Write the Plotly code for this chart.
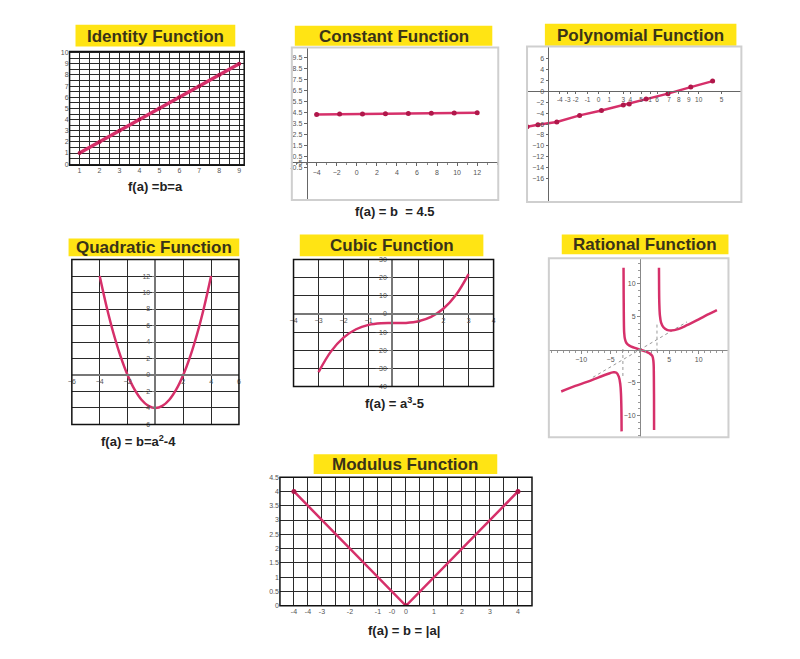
import plotly.graph_objects as go

OFF = 8
W, H = 800 - 2 * OFF, 659 - 2 * OFF
PINK = "#d6306a"
DARK = "#b0174a"
GRID = "#2a2a2a"
TICKF = dict(family="Liberation Sans", size=7, color="#555")

# ---------------- data ----------------
id_x = [1, 2, 3, 4, 5, 6, 7, 8, 9]
id_y = [1, 2, 3, 4, 5, 6, 7, 8, 9]

const_x = [-4, -1.71, 0.57, 2.86, 5.14, 7.43, 9.71, 12]
const_y = [4.35, 4.38, 4.4, 4.42, 4.44, 4.45, 4.48, 4.5]
const_ytickvals = [9.5, 8.5, 7.5, 6.5, 5.5, 4.5, 3.5, 2.5, 1.5, 0.5, 0, -0.5]
const_yticktext = ["9.5", "8.5", "7.5", "6.5", "5.5", "4.5", "3.5", "2.5", "1.5", "0.5", "-5", "-0.5"]
const_xticks = [-4, -2, 0, 2, 4, 6, 8, 10, 12]

poly_x = [-7.3, -6.2, -4.3, -2.0, 0.2, 2.4, 3.0, 4.7, 6.9, 9.2, 11.4]
poly_y = [-6.5, -6.1, -5.6, -4.4, -3.5, -2.5, -2.3, -1.4, -0.4, 0.8, 1.9]
poly_xtickvals = [-4, -3.2, -2.4, -1.2, -0.1, 1, 2.4, 3.1, 4.2, 5.1, 5.8, 7, 8, 9, 10, 12.3]
poly_xticktext = ["-4", "-3", "-2", "-1", "0", "1", "3", "4", "5", "1", "6", "7", "8", "9", "10", "5"]
poly_yticks = [6, 4, 2, 0, -2, -4, -6, -8, -10, -12, -14, -16]

quad_a = [-4, -3.5, -3, -2.5, -2, -1.5, -1, -0.5, 0, 0.5, 1, 1.5, 2, 2.5, 3, 3.5, 4]
quad_b = [12, 8.25, 5, 2.25, 0, -1.75, -3, -3.75, -4, -3.75, -3, -1.75, 0, 2.25, 5, 8.25, 12]
quad_xticks = [-6, -4, -2, 2, 4, 6]
quad_yticks = [12, 10, 8, 6, 4, 2, 0, -2, -4, -6]

cub_a = [-3, -2.5, -2, -1.5, -1, -0.5, 0, 0.5, 1, 1.5, 2, 2.5, 3]
cub_b = [-32, -20.6, -13, -8.4, -6, -5.1, -5, -4.9, -4, -1.6, 3, 10.6, 22]
cub_xticks = [-4, -3, -2, -1, 1, 2, 3, 4]
cub_yticks = [30, 20, 10, 0, -10, -20, -30, -40]

rat_x1 = [-13.4, -11, -9, -7, -5.5, -4.6, -4.0, -3.6, -3.35, -3.22, -3.15, -3.12]
rat_y1 = [-6.35, -5.5, -4.9, -4.2, -3.7, -3.45, -3.5, -4.1, -5.2, -6.8, -9.2, -12.4]
rat_x2 = [-2.79, -2.77, -2.74, -2.68, -2.55, -2.3, -1.8, -1.0, 0, 1.0, 1.6, 2.1, 2.3, 2.37, 2.4, 2.41]
rat_y2 = [12.4, 8.5, 5.0, 2.6, 1.6, 1.0, 0.6, 0.3, 0, -0.3, -0.55, -0.95, -1.8, -4.0, -8.0, -12.2]
rat_x3 = [3.24, 3.26, 3.3, 3.4, 3.6, 4.0, 4.6, 5.3, 6.5, 8, 10, 11.5, 13.1]
rat_y3 = [12.4, 9.5, 7.0, 5.2, 4.1, 3.4, 3.0, 2.9, 3.1, 3.7, 4.6, 5.3, 6.0]
rat_slant_x = [-8, 8]
rat_slant_y = [-4.2, 4.2]
rat_vl_x = [-2.9, -2.9]
rat_vl_y = [-4.0, 0.3]
rat_vr_x = [2.9, 2.9]
rat_vr_y = [-0.3, 4.0]
rat_ticks = [-10, -5, 5, 10]

mod_a = [-4, 0, 4]
mod_b = [4, 0, 4]
mod_xtickvals = [-4, -3.5, -3, -2, -1, -0.5, 0, 1, 2, 3, 4]
mod_xticktext = ["-4", "-4", "-3", "-2", "-1", "-0", "0", "1", "2", "3", "4"]
mod_yticks = [0, 0.5, 1, 1.5, 2, 2.5, 3, 3.5, 4, 4.5]

titles = ["Identity Function", "Constant Function", "Polynomial Function",
          "Quadratic Function", "Cubic Function", "Rational Function", "Modulus Function"]
captions = ["f(a) =b=a", "f(a) = b  = 4.5", "f(a) = b=a<sup>2</sup>-4",
            "f(a) = a<sup>3</sup>-5", "f(a) = b = |a|"]

# ---------------- helpers (page pixel -> paper fraction) ----------------
def fx(p):
    return (p - OFF) / W

def fy(p):
    return 1 - (p - OFF) / H

fig = go.Figure()

def line_trace(x, y, ax, width=3, markers=False, msize=5, color=PINK, dash=None, shape="linear"):
    fig.add_trace(go.Scatter(
        x=x, y=y, xaxis="x" + ax, yaxis="y" + ax,
        mode="lines+markers" if markers else "lines",
        line=dict(color=color, width=width, dash=dash, shape=shape),
        marker=dict(color=DARK, size=msize),
        hoverinfo="skip", showlegend=False, cliponaxis=True))

line_trace(id_x, id_y, "", width=3.5, markers=True, msize=4)
line_trace(const_x, const_y, "2", width=2.5, markers=True, msize=5)
line_trace(poly_x, poly_y, "3", width=2.5, markers=True, msize=5)
line_trace(quad_a, quad_b, "4", width=2.5, shape="spline")
line_trace(cub_a, cub_b, "5", width=2.5, shape="spline")
line_trace(rat_slant_x, rat_slant_y, "6", width=1, color="#999", dash="dot")
line_trace(rat_vl_x, rat_vl_y, "6", width=1, color="#999", dash="dot")
line_trace(rat_vr_x, rat_vr_y, "6", width=1, color="#999", dash="dot")
line_trace(rat_x1, rat_y1, "6", width=2.5, shape="spline")
line_trace(rat_x2, rat_y2, "6", width=2.5, shape="spline")
line_trace(rat_x3, rat_y3, "6", width=2.5, shape="spline")
line_trace(mod_a, mod_b, "7", width=2.5, markers=True, msize=5)

def base_axis(dom, rng, **kw):
    d = dict(domain=dom, range=rng, showgrid=False, zeroline=False, showline=False,
             tickfont=TICKF, ticks="", fixedrange=True, tickangle=0)
    d.update(kw)
    return d

def grid_axis(dom, rng, dtick, minor=None, **kw):
    d = base_axis(dom, rng, showgrid=True, gridcolor=GRID, gridwidth=1, dtick=dtick, **kw)
    if minor:
        d["minor"] = dict(dtick=minor, showgrid=True, gridcolor=GRID, gridwidth=1)
    return d

lay = {}
# 1 Identity
lay["xaxis"] = grid_axis([fx(66), fx(242)], [0.5, 9.25], 1, minor=0.5, anchor="y",
                         tickmode="array", tickvals=id_x)
lay["yaxis"] = grid_axis([fy(163), fy(48)], [-0.1, 10.1], 1, minor=0.5, anchor="x",
                         tickmode="array", tickvals=list(range(0, 11)))
# 2 Constant
lay["xaxis2"] = base_axis([fx(290), fx(498)], [-6.47, 14.1], anchor="free", position=fy(160),
                          showline=True, linecolor="#666", linewidth=1, ticks="outside",
                          ticklen=3, tickcolor="#666", tickmode="array", tickvals=const_xticks,
                          minor=dict(ticks="outside", dtick=1, ticklen=2, tickcolor="#888"))
lay["yaxis2"] = base_axis([fy(198), fy(44)], [-3.43, 10.43], anchor="free", position=fx(305),
                          showline=True, linecolor="#666", linewidth=1, ticks="outside",
                          ticklen=3, tickcolor="#666", tickmode="array",
                          tickvals=const_ytickvals, ticktext=const_yticktext)
# 3 Polynomial
lay["xaxis3"] = base_axis([fx(527), fx(743)], [-7.3, 14.3], anchor="free", position=fy(88.3),
                          showline=True, linecolor="#666", linewidth=1, ticks="outside",
                          ticklen=2, tickcolor="#666", tickmode="array",
                          tickvals=poly_xtickvals, ticktext=poly_xticktext,
                          tickfont=dict(family="Liberation Sans", size=6.5, color="#555"))
lay["yaxis3"] = base_axis([fy(200), fy(43)], [-20.3, 8.24], anchor="free", position=fx(547.7),
                          showline=True, linecolor="#666", linewidth=1, ticks="outside",
                          ticklen=2, tickcolor="#666", tickmode="array", tickvals=poly_yticks)
# 4 Quadratic
lay["xaxis4"] = grid_axis([fx(68.3), fx(236.7)], [-6, 6], 2, anchor="free", position=fy(375),
                          showline=True, linecolor="#777", linewidth=1.5,
                          tickmode="array", tickvals=quad_xticks)
lay["yaxis4"] = grid_axis([fy(425), fy(258.3)], [-6, 14], 2, anchor="free", position=fx(152.5),
                          showline=True, linecolor="#777", linewidth=1.5, ticks="outside",
                          ticklen=3, tickcolor="#777", tickmode="array", tickvals=quad_yticks)
# 5 Cubic
lay["xaxis5"] = grid_axis([fx(291.7), fx(493.3)], [-4, 4], 1, anchor="free", position=fy(313.3),
                          showline=True, linecolor="#777", linewidth=1.5,
                          tickmode="array", tickvals=cub_xticks)
lay["yaxis5"] = grid_axis([fy(386.7), fy(258.3)], [-40, 30], 10, anchor="free", position=fx(391),
                          showline=True, linecolor="#777", linewidth=1.5, ticks="outside",
                          ticklen=3, tickcolor="#777", tickmode="array", tickvals=cub_yticks)
# 6 Rational
lay["xaxis6"] = base_axis([fx(549), fx(730)], [-15.5, 15.07], anchor="free", position=fy(349.3),
                          showline=True, linecolor="#888", linewidth=1, ticks="outside",
                          ticklen=3, tickcolor="#888", tickmode="array", tickvals=rat_ticks,
                          minor=dict(ticks="outside", dtick=1, ticklen=2, tickcolor="#999"))
lay["yaxis6"] = base_axis([fy(438), fy(257)], [-13.3, 13.85], anchor="free", position=fx(640.8),
                          showline=True, linecolor="#888", linewidth=1, ticks="outside",
                          ticklen=3, tickcolor="#888", tickmode="array", tickvals=rat_ticks,
                          minor=dict(ticks="outside", dtick=1, ticklen=2, tickcolor="#999"))
# 7 Modulus
lay["xaxis7"] = grid_axis([fx(278), fx(532)], [-4.5, 4.5], 0.5, minor=0.5, anchor="y7",
                          tickmode="array", tickvals=mod_xtickvals, ticktext=mod_xticktext)
lay["yaxis7"] = grid_axis([fy(608.3), fy(478.3)], [0, 4.5], 0.5, anchor="x7",
                          tickmode="array", tickvals=mod_yticks)

shapes = []
for ax, col, w in [("", "#111", 1.5), ("4", "#111", 1.5), ("5", "#111", 1.5), ("7", "#111", 1.5),
                   ("2", "#cfcfcf", 2), ("3", "#cfcfcf", 2), ("6", "#cfcfcf", 2)]:
    shapes.append(dict(type="rect", xref=f"x{ax} domain", yref=f"y{ax} domain",
                       x0=0, x1=1, y0=0, y1=1, line=dict(color=col, width=w), layer="above"))

title_boxes = [(72, 233, 21, 43), (293, 492, 22, 42), (545, 738, 20, 42),
               (65, 237, 237, 255), (298, 483, 233, 255), (562, 730, 233, 253),
               (312, 497, 455, 475)]
annotations = []
for t, (x0, x1, y0, y1) in zip(titles, title_boxes):
    shapes.append(dict(type="rect", xref="paper", yref="paper", x0=fx(x0), x1=fx(x1),
                       y0=fy(y1), y1=fy(y0), fillcolor="#ffe414", line=dict(width=0), layer="below"))
    annotations.append(dict(text=f"<b>{t}</b>", x=fx((x0 + x1) / 2), y=fy((y0 + y1) / 2 + 0.5),
                            xref="paper", yref="paper", showarrow=False,
                            font=dict(family="Liberation Sans", size=17, color="#3a3318"),
                            xanchor="center", yanchor="middle"))

cap_pos = [(153, 184), (393, 210), (135, 442), (393, 403), (403, 633)]
for c, (x, y) in zip(captions, cap_pos):
    annotations.append(dict(text=f"<b>{c}</b>", x=fx(x), y=fy(y), xref="paper", yref="paper",
                            showarrow=False, font=dict(family="Liberation Sans", size=13, color="#222"),
                            xanchor="center", yanchor="middle"))

fig.update_layout(width=W, height=H, margin=dict(l=0, r=0, t=0, b=0),
                  paper_bgcolor="white", plot_bgcolor="white",
                  shapes=shapes, annotations=annotations, showlegend=False, **lay)

fig.write_html("out.html")
